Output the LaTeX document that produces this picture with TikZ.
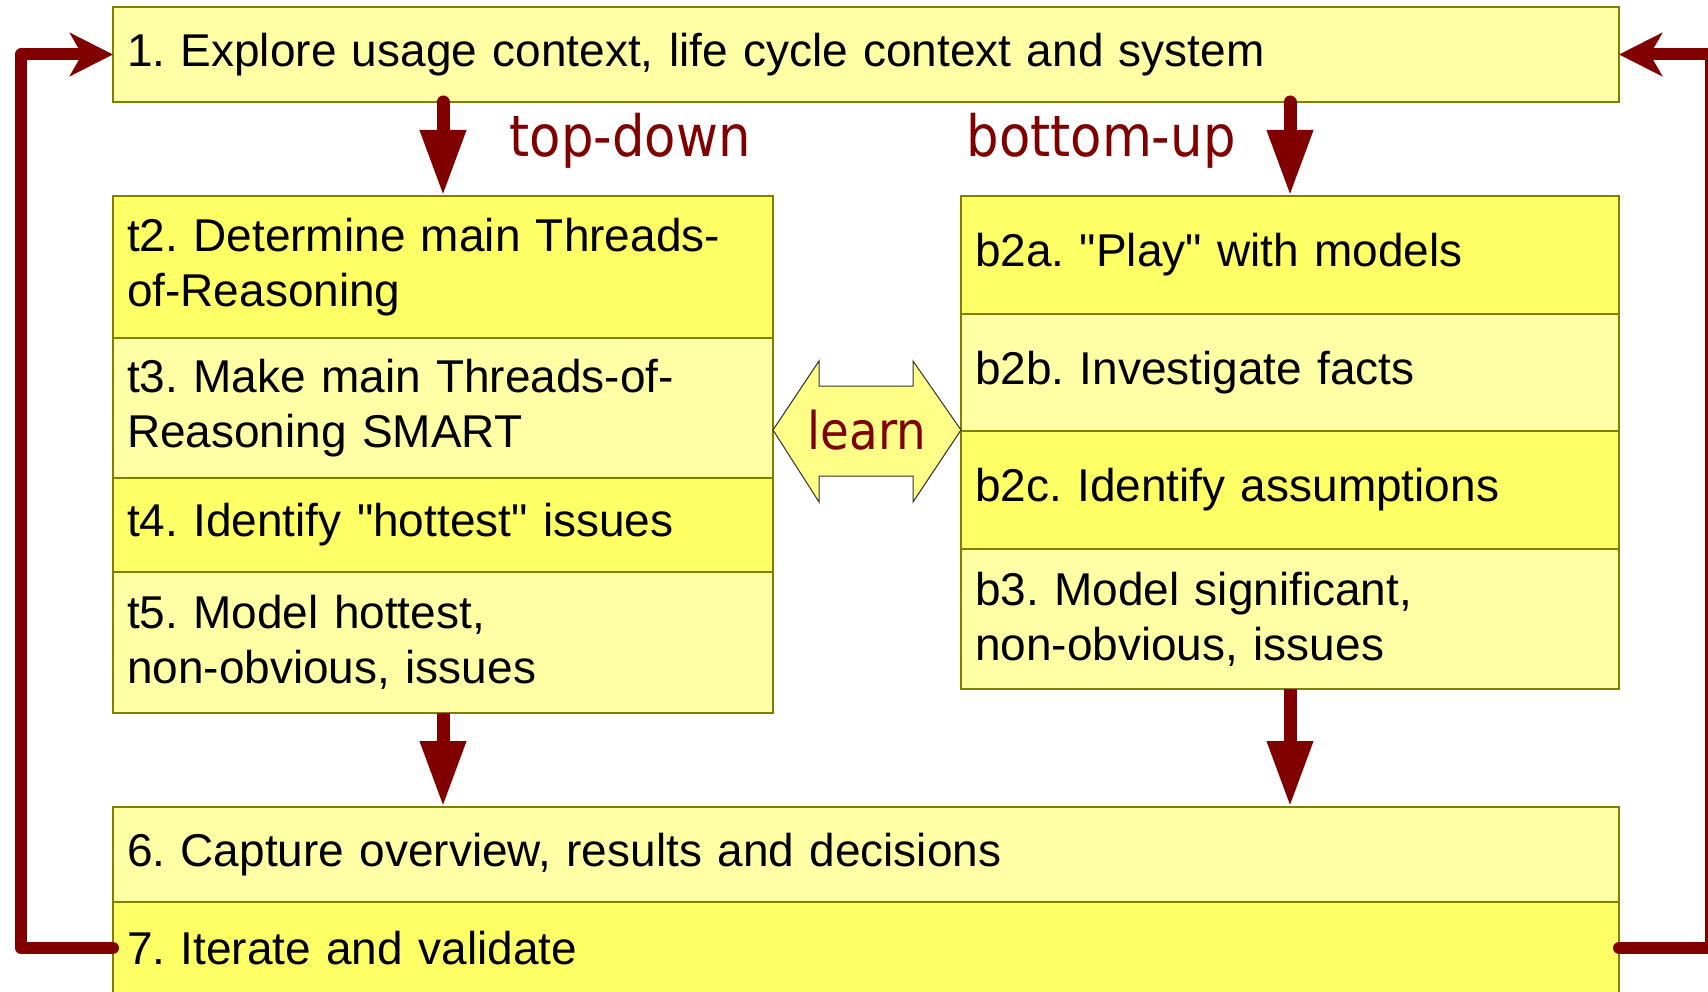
\documentclass[tikz,border=0pt]{standalone}
\usepackage{fontspec}
\setmainfont{Liberation Sans}
\newfontfamily\tagfont[FakeStretch=0.9]{DejaVu Sans}
\usetikzlibrary{arrows.meta,positioning}
\definecolor{boxline}{HTML}{808000}
\definecolor{paleyellow}{HTML}{FFFFA6}
\definecolor{brightyellow}{HTML}{FFFF66}
\definecolor{learnyellow}{HTML}{FFFF88}
\definecolor{darkred}{HTML}{800000}
\frenchspacing
\tikzset{
  stepbox/.style={draw=boxline, line width=2pt, inner xsep=14pt, inner ysep=0pt, outer sep=0pt,
    align=left, anchor=north west, font=\fontsize{46}{55}\selectfont},
  pale/.style={stepbox, fill=paleyellow},
  bright/.style={stepbox, fill=brightyellow},
  flow/.style={darkred, line width=13pt, -{Triangle[length=66pt,width=43pt]}},
  back/.style={darkred, line width=12pt, line cap=round, line join=round,
    -{Stealth[length=43pt,width=43pt,inset=12pt]}},
  tag/.style={darkred, anchor=base, font=\tagfont\fontsize{57}{60}\selectfont}
}

\begin{document}
\begin{tikzpicture}[x=1pt,y=-1pt]
  \path[use as bounding box] (0,0) rectangle (1708,992);
  \clip (0,0) rectangle (1708,992);
  % top and bottom steps
  \node[pale, text width=1478pt, minimum height=95pt] (explore) at (113,7)
    {1. Explore usage context, life cycle context and system};
  \node[pale, text width=1478pt, minimum height=95pt] (capture) at (113,807)
    {6. Capture overview, results and decisions};
  \node[bright, text width=1478pt, minimum height=92pt, below=0pt of capture] (iterate)
    {7. Iterate and validate};
  % top-down column
  \node[bright, text width=632pt, minimum height=142pt] (t2) at (113,196)
    {t2. Determine main Threads-\\of-Reasoning};
  \node[pale, text width=632pt, minimum height=140pt, below=0pt of t2] (t3)
    {t3. Make main Threads-of-\\Reasoning SMART};
  \node[bright, text width=632pt, minimum height=94pt, below=0pt of t3] (t4)
    {t4. Identify \textquotedbl hottest\textquotedbl\ issues};
  \node[pale, text width=632pt, minimum height=141pt, below=0pt of t4] (t5)
    {t5. Model hottest,\\non-obvious, issues};
  % bottom-up column
  \node[bright, text width=630pt, minimum height=118pt] (b2a) at (961,196)
    {b2a. \textquotedbl Play\textquotedbl\ with models};
  \node[pale, text width=630pt, minimum height=117pt, below=0pt of b2a] (b2b)
    {b2b. Investigate facts};
  \node[bright, text width=630pt, minimum height=118pt, below=0pt of b2b] (b2c)
    {b2c. Identify assumptions};
  \node[pale, text width=630pt, minimum height=140pt, below=0pt of b2c] (b3)
    {b3. Model significant,\\non-obvious, issues};
  \node[tag] (topdown) at (630,157) {top-down};
  \node[tag] (bottomup) at (1101,157) {bottom-up};
  % learn arrow
  \draw[fill=learnyellow, draw=black!80, line width=1pt] (773,430) -- (819,361) -- (819,386)
    -- (913,386) -- (913,361) -- (961,430) -- (913,502) -- (913,476) -- (819,476) -- (819,502) -- cycle;
  \node[tag, font=\tagfont\fontsize{52}{55}\selectfont] (learn) at (867,449) {learn};
  % flow
  \draw[flow, line cap=round] (t2.north |- explore.south) -- (t2.north);
  \draw[flow, line cap=round] (b2a.north |- explore.south) -- (b2a.north);
  \draw[flow] (t5.south) -- (t5.south |- capture.north);
  \draw[flow] (b3.south) -- (b3.south |- capture.north);
  \coordinate (lbend) at (21,0);
  \coordinate (rbend) at (1711,0);
  \draw[back] (iterate.west) -| (lbend |- explore.west) -- (explore.west);
  \draw[back] (iterate.east) -| (rbend |- explore.east) -- (explore.east);
\end{tikzpicture}
\end{document}
